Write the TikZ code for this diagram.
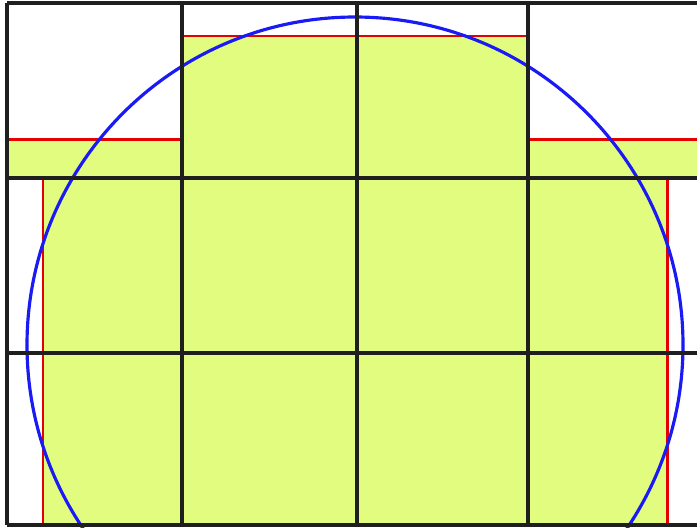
\documentclass[tikz,border=0pt]{standalone}
\usepackage{xcolor}
\usepackage{tikz}
\usetikzlibrary{positioning, calc}

\begin{document}
\begin{tikzpicture}[x=0.01cm, y=-0.01cm,
  grade/.style={draw=black!88, line width=0.9pt},
  borda/.style={draw=red!90!black, line width=0.85pt},
  area/.style={fill=amarelo, draw=none}]
% --- GRADE, AREA PREENCHIDA E CIRCULO ---
\definecolor{amarelo}{HTML}{E2FC80}
\definecolor{azul}{HTML}{1A1AF5}
\useasboundingbox (0,0) rectangle (697,527);

% LAYER 1: Area preenchida
\fill[area] (7,139) rectangle (182,178);
\fill[area] (43,178) rectangle (182,525);
\fill[area] (182,36) rectangle (528,525);
\fill[area] (528,139) rectangle (697,178);
\fill[area] (528,178) rectangle (667,525);

% LAYER 2: Bordas vermelhas
\draw[borda] (7,139) -- (182,139);
\draw[borda] (43,178) -- (43,525);
\draw[borda] (182,36) -- (528,36);
\draw[borda] (528,139) -- (697,139);
\draw[borda] (667,178) -- (667,525);

% LAYER 3: Circulo
\begin{scope}
  \clip (0,0) rectangle (697,527);
  \coordinate (centro) at (355,345);
  \draw[draw=azul, line width=0.9pt] (centro) circle[radius=328];
\end{scope}

% LAYER 4: Grade
\foreach \gx in {7,182,357,528}
  \draw[grade] (\gx,3) -- (\gx,525);
\foreach \gy in {3,178,353,525}
  \draw[grade] (7,\gy) -- (697,\gy);
\end{tikzpicture}
\end{document}
